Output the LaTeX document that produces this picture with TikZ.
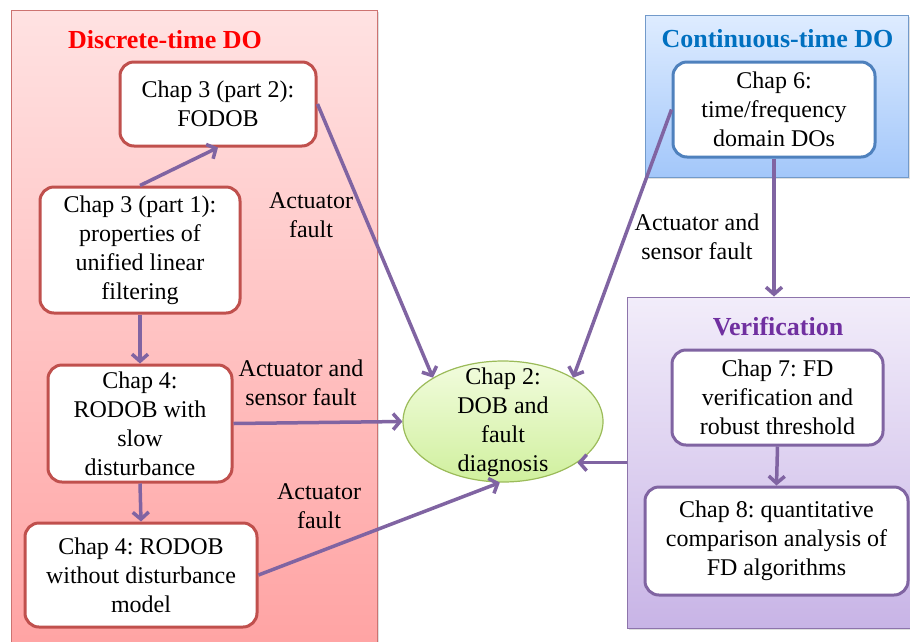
\documentclass[tikz,border=0pt]{standalone}
\usepackage{fontspec}
\setmainfont{Liberation Serif}
\usetikzlibrary{arrows.meta,shapes.geometric,shadows}
\frenchspacing

\definecolor{redline}{HTML}{C0504D}
\definecolor{blueline}{HTML}{4F81BD}
\definecolor{purpleline}{HTML}{8064A2}
\definecolor{greenline}{HTML}{9BBB59}
\definecolor{titlered}{HTML}{FF0000}
\definecolor{titleblue}{HTML}{0070C0}
\definecolor{titlepurple}{HTML}{7030A0}
\definecolor{redtop}{RGB}{255,226,226}
\definecolor{redbottom}{RGB}{255,163,163}
\definecolor{bluetop}{RGB}{222,236,255}
\definecolor{bluebottom}{RGB}{163,199,250}
\definecolor{purpletop}{RGB}{242,237,250}
\definecolor{purplebottom}{RGB}{200,180,230}
\definecolor{greentop}{RGB}{242,252,222}
\definecolor{greenbottom}{RGB}{208,240,158}

\tikzset{
  panel/.style={draw, line width=1pt, inner sep=0pt,
    drop shadow={shadow xshift=1.5pt, shadow yshift=-2pt, opacity=0.25}},
  redpanel/.style={panel, draw=redline!80, top color=redtop, bottom color=redbottom},
  bluepanel/.style={panel, draw=blueline!80, top color=bluetop, bottom color=bluebottom},
  purplepanel/.style={panel, draw=purpleline!90, top color=purpletop, bottom color=purplebottom},
  chapbox/.style={draw, fill=white, rounded corners=14pt, line width=3pt, inner sep=0pt, align=center,
    font=\fontsize{24}{29}\selectfont},
  redbox/.style={chapbox, draw=redline},
  bluebox/.style={chapbox, draw=blueline},
  purplebox/.style={chapbox, draw=purpleline},
  dobshape/.style={ellipse, draw=greenline, line width=1.2pt, top color=greentop,
    bottom color=greenbottom, inner sep=0pt},
  txt/.style={align=center, inner sep=0pt, font=\fontsize{24}{29}\selectfont},
  paneltitle/.style={inner sep=0pt, font=\fontsize{26}{31}\selectfont\bfseries},
  arr/.style={draw=purpleline, line width=3.5pt, -{Straight Barb[length=7pt,width=16pt]}},
}

\begin{document}
\begin{tikzpicture}[x=1pt,y=-1pt]
\useasboundingbox (0,0) rectangle (910,641);

% group panels
\node[redpanel, minimum width=366pt, minimum height=640pt] (discrete) at (194,330) {};
\node[bluepanel, minimum width=263pt, minimum height=162pt] (continuous) at (776.5,96) {};
\node[purplepanel, minimum width=290pt, minimum height=331pt] (verif) at (772,462.5) {};

\node[paneltitle, text=titlered] (titlediscrete) at (165,40) {Discrete-time DO};
\node[paneltitle, text=titleblue] (titlecontinuous) at (777.5,39) {Continuous-time DO};
\node[paneltitle, text=titlepurple] (titleverif) at (778,327) {Verification};

% chapters
\node[redbox, minimum width=196pt, minimum height=84pt] (c32) at (218,104) {Chap 3 (part 2):\\FODOB};
\node[redbox, minimum width=200pt, minimum height=126pt] (c31) at (140,250) {Chap 3 (part 1):\\properties of\\unified linear\\filtering};
\node[redbox, minimum width=184pt, minimum height=117pt] (c4a) at (140,423.5) {Chap 4:\\RODOB with\\slow\\disturbance};
\node[redbox, minimum width=232pt, minimum height=104pt] (c4b) at (141,575) {Chap 4: RODOB\\without disturbance\\model};
\node[bluebox, minimum width=202pt, minimum height=95pt] (c6) at (774,109.5) {Chap 6:\\time/frequency\\domain DOs};
\node[purplebox, minimum width=211pt, minimum height=95pt] (c7) at (777.5,397.5) {Chap 7: FD\\verification and\\robust threshold};
\node[purplebox, minimum width=263pt, minimum height=108pt] (c8) at (776.5,541) {Chap 8: quantitative\\comparison analysis of\\FD algorithms};

% central topic
\node[dobshape, minimum width=200pt, minimum height=121pt] (dob) at (503,421.5) {};
\node[txt] (dobtext) at (503,422) {Chap 2:\\DOB and\\fault\\diagnosis};

% connector labels
\node[txt] (lab1) at (311,215) {Actuator\\fault};
\node[txt] (lab2) at (301,383) {Actuator and\\sensor fault};
\node[txt] (lab3) at (319,506) {Actuator\\fault};
\node[txt] (lab4) at (697,237) {Actuator and\\sensor fault};

% connectors
\draw[arr] (c31.north) -- (c32.south);
\draw[arr] (c31.south) -- (c4a.north);
\draw[arr] (c4a.south) -- (c4b.north);
\draw[arr] (c32.east) -- (dob.148);
\draw[arr] (c4a.east) -- (dob.west);
\draw[arr] (c4b.east) -- (dob.267);
\draw[arr] (c6.west) -- (dob.32);
\draw[arr] (c6.south) -- (c6.south |- verif.north);
\draw[arr] (verif.west |- dob.-29) -- (dob.-29);
\draw[arr] (c7.south) -- (c8.north);
\end{tikzpicture}
\end{document}
